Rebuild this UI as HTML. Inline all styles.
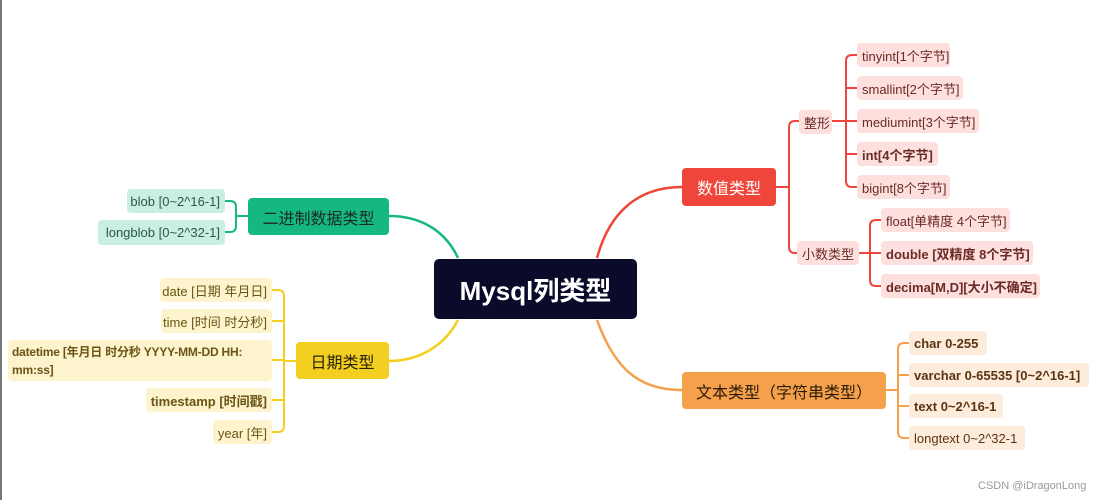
<!DOCTYPE html>
<html><head><meta charset="utf-8"><style>
body{margin:0;width:1097px;height:500px;background:#fff;position:relative;overflow:hidden;font-family:"Liberation Sans","Noto Sans CJK SC",sans-serif}
.n{position:absolute;box-sizing:border-box;border-radius:4px;display:flex;align-items:center;white-space:nowrap;font-size:13px;padding:0 5px}
.b{font-weight:bold}
.r{background:#fde0dd;color:#6b2a26}
.g{background:#c9eee2;color:#2a5a4a;justify-content:flex-end}
.y{background:#fdf3cc;color:#6a5516;justify-content:flex-end}
.o{background:#fdebdc;color:#5a3510}
</style></head><body>
<div style="position:absolute;left:0;top:0;width:2px;height:500px;background:#777"></div>
<svg width="1097" height="500" style="position:absolute;left:0;top:0" fill="none" stroke-width="2.5">
<path d="M597,258 C610,210 640,187 682,187" stroke="#f0453a"/>
<path d="M458,258 C445,230 420,216 389,216" stroke="#16b882"/>
<path d="M458,320 C445,345 420,361 389,361" stroke="#f2cf21"/>
<path d="M597,320 C615,370 640,390 682,390" stroke="#f5a04b"/>
<g stroke="#f0453a" stroke-width="2">
<path d="M776,187 H789 M789,127 V247 M789,127 Q789,121 795,121 H799 M789,247 Q789,253 795,253 H797"/>
<path d="M832,121 H846 M846,61 V181 M846,61 Q846,55 852,55 H857 M846,88 H857 M846,121 H857 M846,154 H857 M846,181 Q846,187 852,187 H857"/>
<path d="M859,253 H870 M870,226 V280 M870,226 Q870,220 876,220 H881 M870,253 H881 M870,280 Q870,286 876,286 H881"/>
</g>
<g stroke="#16b882" stroke-width="2">
<path d="M248,216 H236 M236,207 V226 M236,207 Q236,201 230,201 H225 M236,226 Q236,232 230,232 H225"/>
</g>
<g stroke="#f2cf21" stroke-width="2">
<path d="M296,361 H284 M284,296 V426 M284,296 Q284,290 278,290 H272 M284,321 H272 M284,360 H272 M284,400 H272 M284,426 Q284,432 278,432 H272"/>
</g>
<g stroke="#f5a04b" stroke-width="2">
<path d="M886,390 H898 M898,349 V432 M898,349 Q898,343 904,343 H909 M898,375 H909 M898,406 H909 M898,432 Q898,438 904,438 H909"/>
</g>
</svg>
<div class="n" style="left:434px;top:259px;width:203px;height:60px;background:#0a0a2a;color:#fff;font-size:26px;font-weight:bold;justify-content:center;border-radius:5px">Mysql列类型</div>
<div class="n" style="left:682px;top:168px;width:94px;height:38px;background:#f0453a;color:#fff;font-size:16px;justify-content:center">数值类型</div>
<div class="n" style="left:248px;top:198px;width:141px;height:37px;background:#16b882;color:#1a2a22;font-size:16px;justify-content:center">二进制数据类型</div>
<div class="n" style="left:296px;top:342px;width:93px;height:37px;background:#f2cf21;color:#2a2306;font-size:16px;justify-content:center">日期类型</div>
<div class="n" style="left:682px;top:372px;width:204px;height:37px;background:#f5a04b;color:#2a1a08;font-size:16px;justify-content:center">文本类型（字符串类型）</div>

<div class="n r" style="left:799px;top:110px;width:33px;height:24px">整形</div>
<div class="n r" style="left:797px;top:241px;width:62px;height:24px">小数类型</div>
<div class="n r" style="left:857px;top:43px;width:93px;height:24px">tinyint[1个字节]</div>
<div class="n r" style="left:857px;top:76px;width:106px;height:24px">smallint[2个字节]</div>
<div class="n r" style="left:857px;top:109px;width:122px;height:24px">mediumint[3个字节]</div>
<div class="n r b" style="left:857px;top:142px;width:81px;height:24px">int[4个字节]</div>
<div class="n r" style="left:857px;top:175px;width:93px;height:24px">bigint[8个字节]</div>
<div class="n r" style="left:881px;top:208px;width:129px;height:24px">float[单精度 4个字节]</div>
<div class="n r b" style="left:881px;top:241px;width:152px;height:24px">double [双精度 8个字节]</div>
<div class="n r b" style="left:881px;top:274px;width:159px;height:24px">decima[M,D][大小不确定]</div>

<div class="n g" style="left:127px;top:189px;width:98px;height:24px">blob [0~2^16-1]</div>
<div class="n g" style="left:98px;top:220px;width:127px;height:25px">longblob [0~2^32-1]</div>

<div class="n y" style="left:160px;top:278px;width:112px;height:24px">date [日期 年月日]</div>
<div class="n y" style="left:161px;top:309px;width:111px;height:24px">time [时间 时分秒]</div>
<div class="n y b" style="left:8px;top:340px;width:264px;height:41px;display:block;padding:3px 4px;font-size:12px;line-height:18px;letter-spacing:-0.2px">datetime [年月日 时分秒 YYYY-MM-DD HH:<br>mm:ss]</div>
<div class="n y b" style="left:146px;top:388px;width:126px;height:24px">timestamp [时间戳]</div>
<div class="n y" style="left:213px;top:420px;width:59px;height:24px">year [年]</div>

<div class="n o b" style="left:909px;top:331px;width:78px;height:24px">char 0-255</div>
<div class="n o b" style="left:909px;top:363px;width:180px;height:24px">varchar 0-65535 [0~2^16-1]</div>
<div class="n o b" style="left:909px;top:394px;width:94px;height:24px">text 0~2^16-1</div>
<div class="n o" style="left:909px;top:426px;width:116px;height:24px">longtext 0~2^32-1</div>

<div style="position:absolute;left:978px;top:480px;font-size:11px;color:#999">CSDN @iDragonLong</div>
</body></html>
